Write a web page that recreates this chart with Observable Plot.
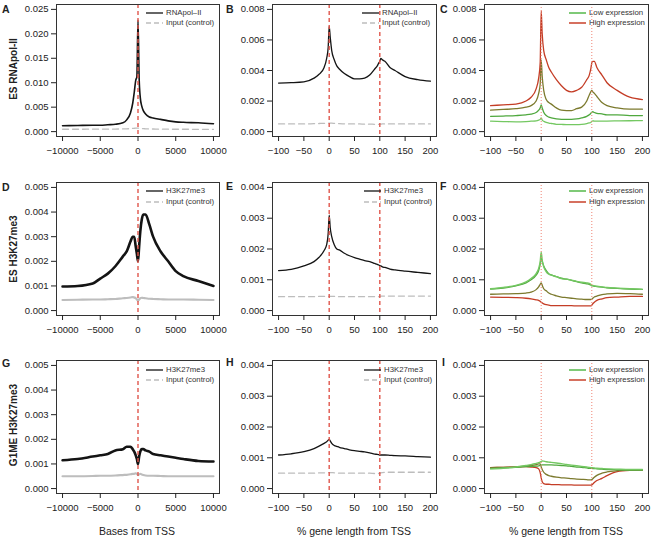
<!DOCTYPE html>
<html><head><meta charset="utf-8">
<script src="https://cdn.jsdelivr.net/npm/d3@7"></script>
<script src="https://cdn.jsdelivr.net/npm/@observablehq/plot@0.6"></script>
<style>
body{margin:0;background:#fff;}
#fig{position:relative;width:652px;height:537px;font-family:"Liberation Sans",Arial,Helvetica,sans-serif;color:#222;overflow:hidden}
.lab{position:absolute;font-weight:bold;font-size:10.5px;line-height:1;transform:translate(0,-50%)}
.row{position:absolute;font-weight:bold;font-size:10px;transform:translate(-50%,-50%) rotate(-90deg);white-space:nowrap;line-height:1}
.xt{position:absolute;font-size:10.5px;transform:translate(-50%,-50%);white-space:nowrap;line-height:1;color:#222}
.lg{position:absolute;font-size:7.8px;line-height:1;white-space:nowrap;display:flex;align-items:center;height:10px;color:#333}
</style></head><body><div id="fig"></div><script>
// ---------- data ----------
const genomicX = [-10000,-8000,-6000,-5000,-4000,-3000,-2000,-1500,-1000,-700,-500,-300,-150,0,150,300,500,700,1000,1500,2000,3000,4000,5000,6000,8000,10000];
const geneX = [-100,-75,-50,-30,-20,-10,-5,-2,0,2,5,10,15,20,30,40,50,60,70,80,90,95,98,100,102,105,110,120,130,150,175,200];

const ticksGenomic = [-10000,-5000,0,5000,10000];
const ticksGene = [-100,-50,0,50,100,150,200];
const yTicksA = [0,0.005,0.010,0.015,0.020,0.025];
const yTicksBC = [0,0.002,0.004,0.006,0.008];
const yTicks005 = [0,0.001,0.002,0.003,0.004,0.005];
const yTicks004 = [0,0.001,0.002,0.003,0.004];
const tssLine = [0];
const geneLines = [0,100];

// Panel A (ES RNApol-II, bases)
const A_rnapol = [0.0012,0.00125,0.0013,0.0013,0.0014,0.0015,0.0018,0.0024,0.0038,0.0058,0.008,0.0105,0.0112,0.0228,0.011,0.007,0.0052,0.0043,0.0036,0.003,0.0028,0.0025,0.0022,0.002,0.0019,0.0018,0.0016];
const A_input = [0.00048,0.00048,0.0005,0.0005,0.0005,0.00052,0.00055,0.00058,0.0006,0.00065,0.00068,0.0007,0.0007,0.0007,0.0007,0.00068,0.00065,0.0006,0.00058,0.00055,0.00053,0.0005,0.0005,0.00048,0.00048,0.00047,0.00046];
// Panel B
const B_rnapol = [0.00318,0.0032,0.00325,0.0035,0.00375,0.0042,0.0048,0.0055,0.0069,0.0062,0.0053,0.0047,0.0043,0.0041,0.0038,0.0036,0.00345,0.00345,0.0035,0.0037,0.0041,0.0043,0.0045,0.0046,0.0048,0.0047,0.0046,0.0042,0.004,0.0036,0.0034,0.0033];
const B_input = [0.0005,0.0005,0.0005,0.00052,0.00053,0.00054,0.00055,0.00056,0.00056,0.00056,0.00055,0.00054,0.00053,0.00052,0.00051,0.0005,0.0005,0.0005,0.00049,0.00049,0.00048,0.00048,0.00048,0.00048,0.00049,0.0005,0.0005,0.0005,0.0005,0.0005,0.0005,0.0005];
// Panel C (expression quartiles, low -> high)
const C_q1 = [0.00068,0.00066,0.00064,0.00066,0.00068,0.0007,0.00075,0.0008,0.0009,0.00076,0.00068,0.0006,0.00056,0.00053,0.00048,0.00047,0.00046,0.00046,0.00046,0.00048,0.00053,0.00057,0.0006,0.00068,0.0007,0.00069,0.00068,0.00068,0.00069,0.0007,0.00071,0.00072];
const C_q2 = [0.001,0.00102,0.00105,0.0011,0.00115,0.00125,0.0014,0.00155,0.00175,0.00155,0.00127,0.00105,0.00095,0.0009,0.00083,0.0008,0.0008,0.0008,0.00083,0.0009,0.001,0.0011,0.0012,0.00127,0.0013,0.00125,0.0012,0.00116,0.0011,0.0011,0.00105,0.00105];
const C_q3 = [0.0014,0.00145,0.0015,0.0016,0.0017,0.002,0.0025,0.0031,0.0047,0.0036,0.0027,0.0021,0.0019,0.0018,0.00155,0.0014,0.00138,0.00138,0.0015,0.0016,0.002,0.0024,0.0026,0.0027,0.0026,0.0025,0.0023,0.0019,0.0017,0.00155,0.00147,0.00147];
const C_q4 = [0.0017,0.00175,0.0018,0.002,0.00225,0.0028,0.0035,0.0045,0.0079,0.0064,0.0053,0.0047,0.0042,0.0039,0.0034,0.003,0.0027,0.0026,0.0027,0.0029,0.0034,0.0037,0.0041,0.0045,0.0046,0.0046,0.0042,0.0037,0.0032,0.0027,0.00225,0.0021];
// Panel D (ES H3K27me3, bases)
const D_k27 = [0.00098,0.001,0.0011,0.0013,0.0015,0.0018,0.0022,0.0024,0.0028,0.003,0.003,0.0026,0.0023,0.002,0.0026,0.0032,0.0037,0.0039,0.0039,0.0035,0.003,0.0024,0.002,0.0016,0.0014,0.0012,0.001];
const D_input = [0.00043,0.00044,0.00045,0.00045,0.00046,0.00047,0.0005,0.00051,0.00053,0.00055,0.00053,0.0005,0.00045,0.0004,0.00045,0.0005,0.00052,0.00051,0.0005,0.00048,0.00047,0.00046,0.00045,0.00045,0.00045,0.00044,0.00043];
// Panel E
const E_k27 = [0.0013,0.00134,0.00145,0.00159,0.00173,0.00195,0.00214,0.0025,0.0031,0.0027,0.0024,0.00214,0.002,0.00197,0.00186,0.00178,0.00172,0.00167,0.00162,0.00159,0.00153,0.0015,0.00148,0.00146,0.00145,0.00142,0.0014,0.00135,0.00132,0.00128,0.00124,0.0012];
const E_input = [0.00045,0.00045,0.00045,0.00045,0.00046,0.00046,0.00046,0.00046,0.00046,0.00046,0.00046,0.00046,0.00045,0.00045,0.00045,0.00045,0.00045,0.00045,0.00045,0.00045,0.00045,0.00045,0.00045,0.00046,0.00047,0.00047,0.00047,0.00047,0.00047,0.00047,0.00047,0.00047];
// Panel F
const F_q1 = [0.00071,0.00075,0.00082,0.00093,0.00104,0.0012,0.00137,0.00159,0.0019,0.00164,0.00142,0.00126,0.00118,0.00115,0.0011,0.00104,0.00102,0.00099,0.00095,0.00092,0.0009,0.00088,0.00085,0.00082,0.00082,0.0008,0.00079,0.00077,0.00075,0.00073,0.00071,0.00069];
const F_q2 = [0.0007,0.00073,0.0008,0.0009,0.001,0.00115,0.0013,0.0015,0.0017,0.0016,0.00145,0.0013,0.0012,0.00116,0.0011,0.00105,0.00102,0.00098,0.00094,0.0009,0.00087,0.00085,0.00083,0.0008,0.0008,0.00079,0.00078,0.00076,0.00074,0.00072,0.0007,0.00069];
const F_q3 = [0.00053,0.00054,0.00055,0.00057,0.0006,0.00068,0.00077,0.00085,0.0009,0.00082,0.00071,0.00064,0.00057,0.00053,0.00048,0.00044,0.00042,0.0004,0.00038,0.00037,0.00036,0.00036,0.00036,0.00037,0.0004,0.00044,0.00047,0.00052,0.00054,0.00056,0.00055,0.00053];
const F_q4 = [0.00044,0.00043,0.00042,0.0004,0.00038,0.00035,0.00033,0.0003,0.00027,0.00025,0.00022,0.00019,0.00018,0.00016,0.00016,0.00016,0.00016,0.00016,0.00015,0.00015,0.00015,0.00015,0.00015,0.00018,0.00022,0.00027,0.00033,0.00038,0.00042,0.00044,0.00046,0.00046];
// Panel G (G1ME H3K27me3, bases)
const G_k27 = [0.00115,0.0012,0.0013,0.00135,0.0014,0.00155,0.0016,0.0017,0.0017,0.0016,0.0015,0.00135,0.0012,0.001,0.0013,0.0015,0.0016,0.0016,0.00155,0.0015,0.0014,0.00135,0.0013,0.00125,0.0012,0.00112,0.0011];
const G_input = [0.0005,0.0005,0.00051,0.00052,0.00052,0.00053,0.00055,0.00056,0.00058,0.0006,0.0006,0.00062,0.0006,0.00055,0.00058,0.0006,0.00057,0.00055,0.00053,0.00052,0.00052,0.00051,0.0005,0.0005,0.0005,0.0005,0.0005];
// Panel H
const H_k27 = [0.00109,0.00113,0.0012,0.0013,0.00138,0.00147,0.00152,0.00157,0.0016,0.00155,0.00147,0.0014,0.00137,0.00134,0.0013,0.00126,0.00123,0.00121,0.00119,0.00116,0.00112,0.00111,0.0011,0.00109,0.00109,0.00109,0.00109,0.00108,0.00107,0.00106,0.00104,0.00102];
const H_input = [0.0005,0.0005,0.0005,0.0005,0.00051,0.00051,0.00052,0.00052,0.00052,0.00052,0.00052,0.00051,0.00051,0.0005,0.0005,0.0005,0.0005,0.0005,0.0005,0.0005,0.00049,0.00049,0.00049,0.00049,0.00051,0.00052,0.00053,0.00053,0.00053,0.00053,0.00053,0.00053];
// Panel I
const I_q1 = [0.00064,0.00066,0.0007,0.00075,0.00078,0.00082,0.00084,0.00086,0.00088,0.0009,0.00089,0.00087,0.00086,0.00085,0.00083,0.00081,0.00078,0.00076,0.00074,0.00072,0.0007,0.00069,0.00068,0.00068,0.00068,0.00067,0.00066,0.00065,0.00064,0.00063,0.00062,0.00062];
const I_q2 = [0.00065,0.00067,0.00069,0.00071,0.00072,0.00073,0.00074,0.00075,0.00076,0.00077,0.00077,0.00077,0.00077,0.00077,0.00076,0.00075,0.00074,0.00072,0.0007,0.00069,0.00067,0.00066,0.00066,0.00066,0.00065,0.00065,0.00064,0.00063,0.00062,0.00061,0.0006,0.0006];
const I_q3 = [0.00068,0.00069,0.0007,0.00073,0.00075,0.00078,0.0008,0.0008,0.0007,0.00062,0.00053,0.00046,0.00042,0.0004,0.00037,0.00035,0.00034,0.00032,0.00031,0.0003,0.00029,0.00028,0.00028,0.00029,0.00032,0.00037,0.00043,0.0005,0.00054,0.00058,0.0006,0.00061];
const I_q4 = [0.00068,0.00069,0.0007,0.00071,0.0007,0.00068,0.00064,0.00052,0.00035,0.00022,0.00016,0.00014,0.00014,0.00013,0.00013,0.00012,0.00012,0.00012,0.00011,0.00011,0.00011,0.00011,0.00011,0.00012,0.00015,0.0002,0.00026,0.00033,0.00042,0.00055,0.00059,0.0006];

const rowLabels = ["ES RNApol-II","ES H3K27me3","G1ME H3K27me3"];
const panelLetters = ["A","B","C","D","E","F","G","H","I"];
const xTitles = ["Bases from TSS","% gene length from TSS","% gene length from TSS"];

// ---------- styles ----------
const BLACK = "#141414", GREY = "#bdbdbd";
const Q1 = "#74c862", Q2 = "#4fa83e", Q3 = "#7c7a2e", Q4 = "#c43d26";
const LOWC = "#55b84a", HIGHC = "#c8402a";
const dashRed = {stroke:"#e0564c", strokeWidth:1.4, strokeDasharray:"4,3"};
const dotRed = {stroke:"#f08474", strokeWidth:1, strokeDasharray:"1,2"};

const cols = [
  {left:0, width:222, ml:56, mr:3, xs:genomicX, xdom:[-10800,10800], xticks:ticksGenomic},
  {left:222, width:216, ml:50, mr:2, xs:geneX, xdom:[-112,212], xticks:ticksGene},
  {left:438, width:214, ml:46, mr:4, xs:geneX, xdom:[-112,212], xticks:ticksGene}
];
const rows = [
  {top:0, height:162, mt:4, mb:26},
  {top:176, height:164, mt:6, mb:25},
  {top:354, height:163, mt:6, mb:24}
];

const fig = document.getElementById("fig");

function toRows(xs, ys){ return xs.map((x,i)=>({x, y:ys[i]})); }

function panel(r, c, cfg){
  const C = cols[c], R = rows[r];
  const marks = [];
  for (const s of cfg.series) {
    marks.push(Plot.line(toRows(C.xs, s.values), {x:"x", y:"y", stroke:s.color, strokeWidth:s.width, strokeDasharray:s.dash, curve:"monotone-x"}));
  }
  marks.push(Plot.ruleX(cfg.vlines, cfg.vstyle));
  marks.push(Plot.frame({stroke:"#333", strokeWidth:1}));
  marks.push(Plot.axisX({ticks:C.xticks, tickSize:5, tickPadding:6, tickFormat:d3.format("d"), label:null}));
  marks.push(Plot.axisY({ticks:cfg.yticks, tickSize:5, tickPadding:3, tickFormat:d3.format(".3f"), label:null}));
  const svg = Plot.plot({
    width:C.width, height:R.height,
    marginLeft:C.ml, marginRight:C.mr, marginTop:R.mt, marginBottom:R.mb,
    x:{domain:C.xdom}, y:{domain:cfg.ydom},
    style:{fontFamily:'"Liberation Sans",Arial,sans-serif', fontSize:"9.5px", color:"#222", background:"transparent", overflow:"visible"},
    marks
  });
  svg.style.position = "absolute";
  svg.style.left = C.left + "px";
  svg.style.top = R.top + "px";
  fig.appendChild(svg);
}

function legend(x, y1, y2, items){
  [y1,y2].forEach((y,i)=>{
    const it = items[i];
    const d = document.createElement("div");
    d.className = "lg";
    d.style.left = x + "px";
    d.style.top = (y-5) + "px";
    d.innerHTML = `<svg width="17" height="4" style="display:block"><line x1="0" x2="17" y1="2" y2="2" stroke="${it.color}" stroke-width="${it.width}" ${it.dash?`stroke-dasharray="${it.dash}"`:""}/></svg><span style="margin-left:3px">${it.label}</span>`;
    fig.appendChild(d);
  });
}

const inputDashed = {color:GREY, width:1.3, dash:"6,4"};

// Row 1
panel(0,0,{ydom:[-0.001,0.026], yticks:yTicksA, vlines:tssLine, vstyle:dashRed,
  series:[{values:A_input, ...inputDashed},{values:A_rnapol, color:BLACK, width:1.6}]});
panel(0,1,{ydom:[-0.00032,0.00832], yticks:yTicksBC, vlines:geneLines, vstyle:dashRed,
  series:[{values:B_input, ...inputDashed},{values:B_rnapol, color:BLACK, width:1.3}]});
panel(0,2,{ydom:[-0.00032,0.00832], yticks:yTicksBC, vlines:geneLines, vstyle:dotRed,
  series:[{values:C_q1,color:Q1,width:1.3},{values:C_q2,color:Q2,width:1.3},{values:C_q3,color:Q3,width:1.3},{values:C_q4,color:Q4,width:1.3}]});
// Row 2
panel(1,0,{ydom:[-0.0002,0.0052], yticks:yTicks005, vlines:tssLine, vstyle:dashRed,
  series:[{values:D_input,color:GREY,width:2.2},{values:D_k27,color:BLACK,width:2.6}]});
panel(1,1,{ydom:[-0.00016,0.00416], yticks:yTicks004, vlines:geneLines, vstyle:dashRed,
  series:[{values:E_input, ...inputDashed},{values:E_k27, color:BLACK, width:1.3}]});
panel(1,2,{ydom:[-0.00016,0.00416], yticks:yTicks004, vlines:geneLines, vstyle:dotRed,
  series:[{values:F_q4,color:Q4,width:1.3},{values:F_q3,color:Q3,width:1.3},{values:F_q2,color:Q2,width:1.3},{values:F_q1,color:Q1,width:1.4}]});
// Row 3
panel(2,0,{ydom:[-0.0002,0.0052], yticks:yTicks005, vlines:tssLine, vstyle:dashRed,
  series:[{values:G_input,color:GREY,width:2.2},{values:G_k27,color:BLACK,width:2.6}]});
panel(2,1,{ydom:[-0.00016,0.00416], yticks:yTicks004, vlines:geneLines, vstyle:dashRed,
  series:[{values:H_input, ...inputDashed},{values:H_k27, color:BLACK, width:1.3}]});
panel(2,2,{ydom:[-0.00016,0.00416], yticks:yTicks004, vlines:geneLines, vstyle:dotRed,
  series:[{values:I_q4,color:Q4,width:1.3},{values:I_q3,color:Q3,width:1.3},{values:I_q2,color:Q2,width:1.3},{values:I_q1,color:Q1,width:1.4}]});

// Legends
const lgPol = [{label:"RNApol–II",color:BLACK,width:1.3},{label:"Input (control)",color:GREY,width:1.3,dash:"5,3"}];
const lgK27 = [{label:"H3K27me3",color:BLACK,width:1.3},{label:"Input (control)",color:GREY,width:1.3,dash:"5,3"}];
const lgExp = [{label:"Low expression",color:LOWC,width:1.5},{label:"High expression",color:HIGHC,width:1.5}];
legend(146,12.5,23,lgPol); legend(362,12.5,23,lgPol); legend(569,12.5,22.5,lgExp);
legend(146,191,201.5,lgK27); legend(364,191,201.5,lgK27); legend(569,191,201.5,lgExp);
legend(146,369.5,379.5,lgK27); legend(364,369.5,380,lgK27); legend(569,370,380,lgExp);

// Panel letters
const letterPos = [[2,8.5],[226,8.5],[440,8.5],[2,186.5],[226,185.5],[440,185.5],[2,363],[226,362],[442,362]];
panelLetters.forEach((t,i)=>{
  const d = document.createElement("div"); d.className="lab"; d.textContent=t;
  d.style.left = letterPos[i][0]+"px"; d.style.top = letterPos[i][1]+"px"; fig.appendChild(d);
});
// Row labels
const rowY = [69,249,425];
rowLabels.forEach((t,i)=>{
  const d = document.createElement("div"); d.className="row"; d.textContent=t;
  d.style.left = "14px"; d.style.top = rowY[i]+"px"; fig.appendChild(d);
});
// X titles
const xTitleX = [137,354,566];
xTitles.forEach((t,i)=>{
  const d = document.createElement("div"); d.className="xt"; d.textContent=t;
  d.style.left = xTitleX[i]+"px"; d.style.top = "531px"; fig.appendChild(d);
});
</script></body></html>
